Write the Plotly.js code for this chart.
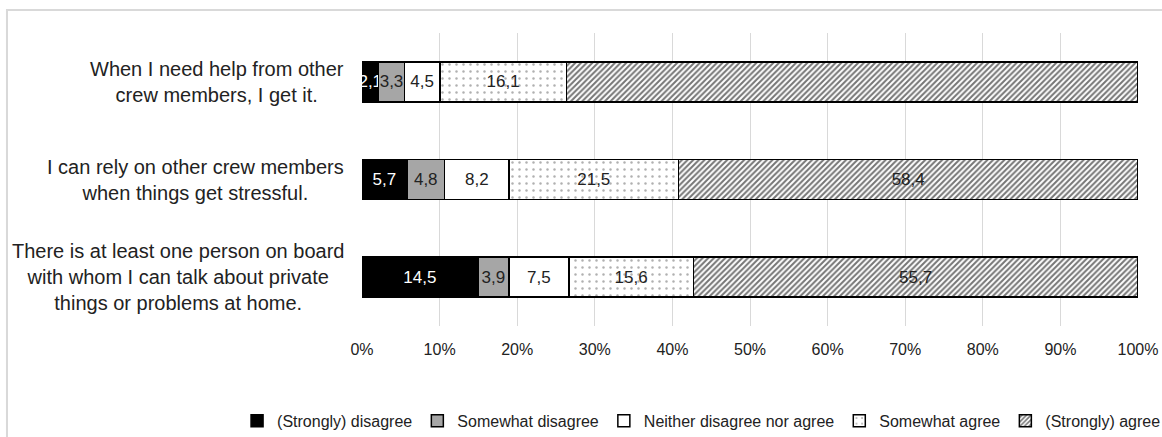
<!DOCTYPE html>
<html>
<head>
<meta charset="utf-8">
<script src="https://cdn.plot.ly/plotly-3.0.1.min.js"></script>
<style>
html,body{margin:0;padding:0;background:#fff;}
#chart{width:1162px;height:437px;}
</style>
</head>
<body>
<div id="chart"></div>
<script>
// Categories (top to bottom)
const categories = [
  "When I need help from other<br>crew members, I get it.",
  "I can rely on other crew members<br>when things get stressful.",
  "There is at least one person on board<br>with whom I can talk about private<br>things or problems at home."
];
// Series (percent of respondents)
const seriesNames = ["(Strongly) disagree", "Somewhat disagree", "Neither disagree nor agree", "Somewhat agree", "(Strongly) agree"];
const stronglyDisagree = [2.1, 5.7, 14.5];
const somewhatDisagree = [3.3, 4.8, 3.9];
const neither = [4.5, 8.2, 7.5];
const somewhatAgree = [16.1, 21.5, 15.6];
const stronglyAgree = [72.7, 58.4, 55.7];
const xTickVals = [0,10,20,30,40,50,60,70,80,90,100];

const FONT = "Liberation Sans, Arial, sans-serif";
const fmt = v => v.toFixed(1).replace('.', ',');

const styles = [
  {color:'#000000', text:'#ffffff'},
  {color:'#a6a6a6', text:'#222222'},
  {color:'#ffffff', text:'#222222'},
  {color:'#ffffff', text:'#222222', pattern:{shape:'.', fgcolor:'#b0b0b0', bgcolor:'#ffffff', size:7, solidity:0.1, fillmode:'replace'}},
  {color:'#ffffff', text:'#222222', pattern:{shape:'/', fgcolor:'#767676', bgcolor:'#ffffff', size:4, solidity:0.5, fillmode:'replace'}}
];
const seriesValues = [stronglyDisagree, somewhatDisagree, neither, somewhatAgree, stronglyAgree];

const traces = seriesValues.map((vals, i) => {
  const st = styles[i];
  const marker = {color: st.color, line:{color:'#000000', width:1.5}};
  if (st.pattern) marker.pattern = st.pattern;
  return {
    type:'bar', orientation:'h', name: seriesNames[i],
    x: vals, y: categories,
    text: vals.map(fmt), textposition:'inside', insidetextanchor:'middle', textangle:0,
    constraintext:'none', cliponaxis:false,
    textfont:{family:FONT, size:17, color: st.text},
    marker: marker, hoverinfo:'skip'
  };
});

const annotations = categories.map(c => ({
  xref:'paper', yref:'y', x:0, y:c, xanchor:'right', yanchor:'middle',
  xshift:-16, text:c, showarrow:false, align:'center',
  font:{family:FONT, size:20, color:'#222222'}
}));

const layout = {
  width:1162, height:437,
  margin:{l:362, r:24, t:33, b:111, autoexpand:false},
  paper_bgcolor:'#ffffff', plot_bgcolor:'#ffffff',
  barmode:'stack', barnorm:'percent', bargap:0.59,
  font:{family:FONT, color:'#222222'},
  showlegend:true,
  legend:{orientation:'h', x:-0.161, xanchor:'left', y:-0.324, yanchor:'middle',
          bgcolor:'rgba(0,0,0,0)',
          font:{family:FONT, size:16, color:'#222222'}, itemwidth:30, traceorder:'normal'},
  xaxis:{range:[0,100], tickvals:xTickVals, ticktext:xTickVals.map(v=>v+'%'),
         showgrid:true, gridcolor:'#d9d9d9', gridwidth:1, zeroline:false, showline:false,
         ticks:'', ticklabelstandoff:12, tickfont:{family:FONT, size:16, color:'#222222'}, fixedrange:true},
  yaxis:{autorange:'reversed', showticklabels:false, showgrid:false, zeroline:false, showline:false, ticks:'', fixedrange:true},
  annotations: annotations,
  shapes:[{type:'rect', xref:'paper', yref:'paper', x0:-0.4575, x1:1.05, y0:-0.45, y1:1.0785,
           line:{color:'#d9d9d9', width:2}, fillcolor:'rgba(0,0,0,0)', layer:'below'}]
};

Plotly.newPlot('chart', traces, layout, {displayModeBar:false, staticPlot:true});
</script>
</body>
</html>
